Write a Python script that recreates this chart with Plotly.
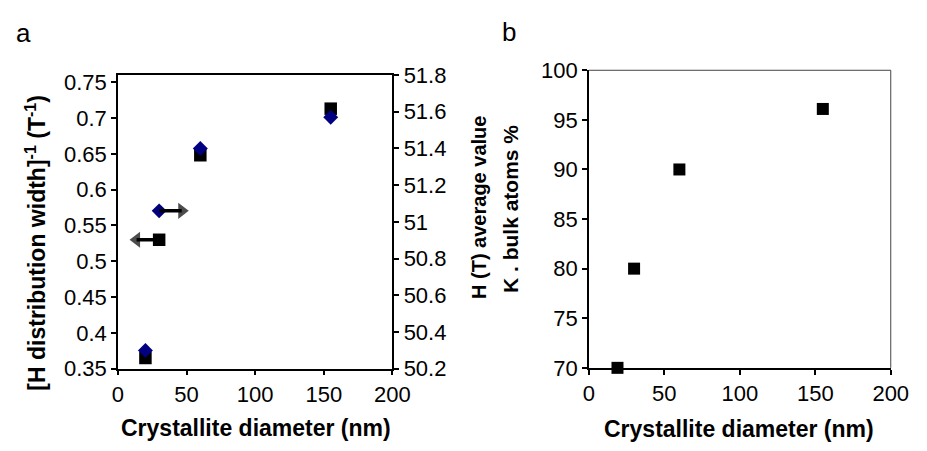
import plotly.graph_objects as go

# ---- data ----
diam_a = [20, 30, 60, 155]
inv_width = [0.365, 0.53, 0.648, 0.713]          # left axis, squares
diam_a2 = [20, 30, 60, 155]
h_avg = [50.30, 51.06, 51.40, 51.57]             # right axis, diamonds

diam_b = [19, 30, 60, 155]
bulk_pct = [70, 80, 90, 96.1]

x_ticks = [0, 50, 100, 150, 200]
y1_ticks = [0.35, 0.4, 0.45, 0.5, 0.55, 0.6, 0.65, 0.7, 0.75]
y1_text = ["0.35", "0.4", "0.45", "0.5", "0.55", "0.6", "0.65", "0.7", "0.75"]
y2_ticks = [50.2, 50.4, 50.6, 50.8, 51.0, 51.2, 51.4, 51.6, 51.8]
y2_text = ["50.2", "50.4", "50.6", "50.8", "51", "51.2", "51.4", "51.6", "51.8"]
y3_ticks = [70, 75, 80, 85, 90, 95, 100]

# axis-indicator arrows (length in x data units, from the point at index 1)
ARROW_LEN = 22.2
HEAD_OFF = 5.75

FONT = "Liberation Sans, Arial, sans-serif"
TICKF = dict(family=FONT, size=22, color="black")

fig = go.Figure()
fig.add_trace(go.Scatter(x=diam_a, y=inv_width, mode="markers", xaxis="x", yaxis="y", cliponaxis=False,
                         marker=dict(symbol="square", size=12.5, color="black"), showlegend=False))
fig.add_trace(go.Scatter(x=diam_a2, y=h_avg, mode="markers", xaxis="x", yaxis="y2", cliponaxis=False,
                         marker=dict(symbol="diamond", size=11.5, color="#000080"), showlegend=False))
fig.add_trace(go.Scatter(x=diam_b, y=bulk_pct, mode="markers", xaxis="x2", yaxis="y3", cliponaxis=False,
                         marker=dict(symbol="square", size=12, color="black"), showlegend=False))

# left-pointing arrow from the square at index 1
x0 = diam_a[1]
xh = x0 - ARROW_LEN + HEAD_OFF
fig.add_trace(go.Scatter(x=[x0, xh], y=[inv_width[1]] * 2, mode="lines+markers", xaxis="x", yaxis="y",
                         line=dict(color="black", width=3.5),
                         marker=dict(symbol=["square", "triangle-left"], size=[0, 14], color="black",
                                     line=dict(width=0)),
                         showlegend=False, cliponaxis=False))
# right-pointing arrow from the diamond at index 1
x0 = diam_a2[1]
xh = x0 + ARROW_LEN - HEAD_OFF
fig.add_trace(go.Scatter(x=[x0, xh], y=[h_avg[1]] * 2, mode="lines+markers", xaxis="x", yaxis="y2",
                         line=dict(color="black", width=3.5),
                         marker=dict(symbol=["square", "triangle-right"], size=[0, 14], color="black",
                                     line=dict(width=0)),
                         showlegend=False, cliponaxis=False))

ax_common = dict(showgrid=False, zeroline=False, showline=True, linecolor="black", linewidth=1.5,
                 ticks="outside", ticklen=5, tickcolor="black", tickwidth=1.5, tickfont=TICKF)

fig.update_layout(
    width=927, height=451, margin=dict(l=0, r=0, t=0, b=0),
    plot_bgcolor="white", paper_bgcolor="white",
    xaxis=dict(domain=[0.124, 0.428], range=[0, 200], tickvals=x_ticks, anchor="y",
               mirror=True, **ax_common),
    yaxis=dict(domain=[0.1626, 0.8521], range=[0.35, 0.76], tickvals=y1_ticks, ticktext=y1_text,
               anchor="x", **ax_common),
    yaxis2=dict(range=[50.2, 51.8], tickvals=y2_ticks, ticktext=y2_text, overlaying="y",
                side="right", anchor="x", **ax_common),
    xaxis2=dict(domain=[0.6454, 0.9798], range=[0, 200], tickvals=x_ticks, anchor="y3", **ax_common),
    yaxis3=dict(domain=[0.1647, 0.8632], range=[70, 100], tickvals=y3_ticks, anchor="x2", **ax_common),
)

# thin top/right border of panel b
fig.add_shape(type="line", xref="x2 domain", yref="y3 domain", x0=0, x1=1, y0=1, y1=1,
              line=dict(color="#444", width=1))
fig.add_shape(type="line", xref="x2 domain", yref="y3 domain", x0=1, x1=1, y0=0, y1=1,
              line=dict(color="#444", width=1))


def ann(text, x, y, angle=0, size=21, bold=True):
    t = f"<b>{text}</b>" if bold else text
    fig.add_annotation(text=t, x=x / 927, y=1 - y / 451, xref="paper", yref="paper",
                       showarrow=False, textangle=angle, xanchor="center", yanchor="middle",
                       font=dict(family=FONT, size=size, color="black"))


ann("Crystallite diameter (nm)", 257, 440, size=23)
ann("Crystallite diameter (nm)", 752, 441, size=23)
ann("[H distribution width]<sup>-1</sup> (T<sup>-1</sup>)", 31, 244, angle=-90, size=23)
ann("H (T) average value", 485, 207, angle=-90, size=20)
ann("K . bulk atoms %", 518, 209, angle=-90, size=21)
ann("a", 18, 22, size=26, bold=False)
ann("b", 516, 21, size=26, bold=False)

fig.write_html("out.html")
